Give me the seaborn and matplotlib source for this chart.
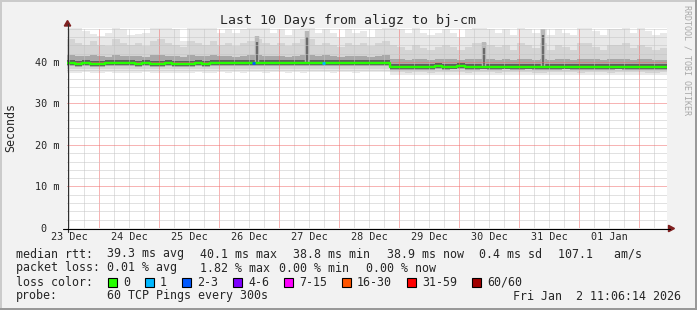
import numpy as np
import pandas as pd
import matplotlib
matplotlib.use("Agg")
import matplotlib.pyplot as plt
import seaborn as sns
from matplotlib.lines import Line2D
from matplotlib.patches import Rectangle, Polygon
from matplotlib.transforms import IdentityTransform
from matplotlib.ticker import FixedLocator, FixedFormatter, NullFormatter

# ------------------------------------------------------------------ data
title = "Last 10 Days from aligz to bj-cm"
y_label = "Seconds"
watermark = "RRDTOOL / TOBI OETIKER"
start_hour = 11.104          # Dec 23 11:06:14, hours since Dec 23 00:00
span_hours = 240
bin_hours = 3

median_rtt = [39.70, 39.55, 39.70, 39.55, 39.60, 39.70, 39.75, 39.70, 39.70, 39.60,
              39.70, 39.55, 39.60, 39.70, 39.55, 39.60, 39.55, 39.70, 39.60, 39.70,
              39.70, 39.75, 39.70, 39.70, 39.80, 39.70, 39.70, 39.75, 39.70, 39.70,
              39.70, 39.75, 39.80, 39.70, 39.85, 39.70, 39.70, 39.75, 39.70, 39.70,
              39.80, 39.75, 39.85, 38.85, 38.85, 38.85, 38.85, 38.85, 38.85, 38.95,
              38.85, 38.90, 38.95, 38.85, 38.85, 38.90, 38.85, 38.85, 38.90, 38.85,
              38.85, 38.90, 38.85, 38.80, 38.85, 38.85, 38.90, 38.85, 38.85, 38.85,
              38.85, 38.85, 38.85, 38.90, 38.85, 38.85, 38.85, 38.85, 38.80, 38.85]

smoke_max = [49.5, 49.5, 47.5, 46.7, 46.3, 47.0, 49.5, 48.0, 46.5, 46.8,
             47.0, 48.5, 49.5, 49.5, 48.0, 45.0, 49.5, 48.5, 49.5, 49.5,
             47.0, 48.0, 47.0, 48.0, 49.5, 49.5, 48.5, 47.0, 48.0, 46.5,
             48.0, 49.5, 49.5, 47.0, 48.0, 47.0, 46.0, 48.0, 47.0, 47.5,
             46.0, 48.0, 49.5, 49.5, 48.0, 47.0, 49.5, 47.0, 46.5, 47.0,
             48.0, 47.0, 46.0, 48.0, 49.5, 49.5, 48.0, 47.0, 48.0, 46.5,
             49.5, 48.0, 47.0, 48.0, 46.5, 48.0, 47.0, 46.5, 49.5, 49.5,
             47.5, 46.5, 48.0, 48.0, 49.5, 47.0, 48.5, 47.5, 46.5, 47.0]

smoke_p90 = [45.5, 44.5, 44.0, 45.0, 44.0, 43.8, 45.5, 44.5, 44.0, 44.5,
             43.8, 45.0, 45.5, 44.5, 44.0, 43.5, 45.0, 44.5, 44.0, 45.0,
             44.0, 44.5, 43.8, 44.5, 45.0, 45.5, 44.5, 44.0, 44.5, 43.8,
             44.5, 45.5, 45.5, 44.0, 44.5, 44.0, 43.5, 44.5, 44.0, 44.5,
             43.8, 44.5, 45.0, 44.0, 43.5, 43.0, 44.0, 43.3, 43.0, 43.5,
             44.0, 43.5, 43.0, 43.5, 44.5, 44.5, 44.0, 43.5, 44.0, 43.0,
             44.5, 44.0, 43.3, 44.5, 43.0, 44.0, 43.5, 43.0, 44.5, 44.5,
             43.5, 43.0, 44.0, 44.0, 44.5, 43.3, 44.0, 43.5, 43.0, 43.3]

smoke_p75 = [41.6, 41.4, 41.5, 41.6, 41.4, 41.3, 41.7, 41.5, 41.4, 41.5,
             41.3, 41.6, 41.7, 41.5, 41.4, 41.3, 41.6, 41.5, 41.4, 41.6,
             41.4, 41.5, 41.3, 41.5, 41.6, 41.6, 41.5, 41.4, 41.5, 41.3,
             41.5, 41.6, 41.6, 41.4, 41.6, 41.4, 41.3, 41.5, 41.4, 41.5,
             41.3, 41.5, 41.6, 40.7, 40.6, 40.5, 40.7, 40.6, 40.5, 40.6,
             40.7, 40.6, 40.5, 40.6, 40.7, 40.7, 40.6, 40.5, 40.6, 40.5,
             40.7, 40.6, 40.5, 40.6, 40.5, 40.6, 40.6, 40.5, 40.7, 40.7,
             40.6, 40.5, 40.6, 40.6, 40.7, 40.5, 40.6, 40.6, 40.5, 40.5]

smoke_p25 = [39.0, 38.9, 39.0, 38.9, 38.9, 39.0, 39.0, 39.0, 39.0, 38.9,
             39.0, 38.9, 38.9, 39.0, 38.9, 38.9, 38.9, 39.0, 38.9, 39.0,
             39.0, 39.0, 39.0, 39.0, 39.1, 39.0, 39.0, 39.0, 39.0, 39.0,
             39.0, 39.0, 39.1, 39.0, 39.1, 39.0, 39.0, 39.0, 39.0, 39.0,
             39.1, 39.0, 39.1, 38.1, 38.1, 38.1, 38.1, 38.1, 38.1, 38.2,
             38.1, 38.2, 38.2, 38.1, 38.1, 38.2, 38.1, 38.1, 38.2, 38.1,
             38.1, 38.2, 38.1, 38.1, 38.1, 38.1, 38.2, 38.1, 38.1, 38.1,
             38.1, 38.1, 38.1, 38.2, 38.1, 38.1, 38.1, 38.1, 38.1, 38.1]

smoke_p10 = [38.3, 38.2, 38.3, 38.2, 38.2, 38.3, 38.3, 38.3, 38.2, 38.2,
             38.3, 38.2, 38.2, 38.3, 38.2, 38.2, 38.2, 38.3, 38.2, 38.3,
             38.3, 38.3, 38.3, 38.3, 38.4, 38.3, 38.3, 38.3, 38.3, 38.3,
             38.3, 38.3, 38.4, 38.3, 38.4, 38.3, 38.3, 38.3, 38.3, 38.3,
             38.4, 38.3, 38.4, 37.5, 37.5, 37.4, 37.5, 37.5, 37.4, 37.5,
             37.5, 37.5, 37.5, 37.4, 37.5, 37.5, 37.5, 37.4, 37.5, 37.5,
             37.5, 37.5, 37.4, 37.4, 37.5, 37.5, 37.5, 37.5, 37.4, 37.5,
             37.5, 37.5, 37.4, 37.5, 37.5, 37.5, 37.5, 37.4, 37.4, 37.5]

smoke_min = [37.4, 37.3, 37.5, 37.3, 37.4, 37.5, 37.3, 37.4, 37.4, 37.3,
             37.5, 37.3, 37.4, 37.4, 37.3, 37.4, 37.3, 37.5, 37.4, 37.4,
             37.5, 37.4, 37.5, 37.4, 37.6, 37.5, 37.4, 37.5, 37.5, 37.4,
             37.5, 37.4, 37.6, 37.5, 37.6, 37.4, 37.5, 37.5, 37.4, 37.5,
             37.6, 37.5, 37.6, 36.8, 36.9, 36.8, 36.9, 36.8, 36.8, 36.9,
             36.8, 36.9, 36.9, 36.8, 36.8, 36.9, 36.8, 36.8, 36.9, 36.8,
             36.9, 36.9, 36.8, 36.8, 36.9, 36.8, 36.9, 36.8, 36.8, 36.9,
             36.8, 36.9, 36.8, 36.9, 36.8, 36.8, 36.9, 36.8, 36.8, 36.9]

# short bursts of slow pings (hour of event, rtt reached in ms)
burst_hours = [87.1, 107.1, 177.9, 201.5]
burst_rtt = [44.8, 46.0, 43.4, 46.5]

# pings lost (hour of event, lost pings of 60)
loss_hours = [85.9, 113.9]
loss_pings = [2, 1]

day_labels = ["23 Dec", "24 Dec", "25 Dec", "26 Dec", "27 Dec",
              "28 Dec", "29 Dec", "30 Dec", "31 Dec", "01 Jan"]
y_ticks = [0, 10, 20, 30, 40]
y_tick_labels = ["0  ", "10 m", "20 m", "30 m", "40 m"]

loss_labels = ["0", "1", "2-3", "4-6", "7-15", "16-30", "31-59", "60/60"]
loss_upper = [0, 1, 3, 6, 15, 30, 59, 60]
loss_colors = ["#26ff00", "#00b8ff", "#0059ff", "#7e00ff",
               "#ff00ff", "#ff5500", "#ff0000", "#a10000"]

rtt_stats = ["39.3 ms avg", "40.1 ms max", "38.8 ms min",
             "38.9 ms now", "0.4 ms sd", "107.1   am/s"]
loss_stats = ["0.01 % avg", "1.82 % max", "0.00 % min", "0.00 % now"]
probe_text = "60 TCP Pings every 300s"
timestamp = "Fri Jan  2 11:06:14 2026"

# ------------------------------------------------------------------ style
sns.set_style("white")
plt.rcParams["font.family"] = ["DejaVu Sans Mono"]

W, H = 697, 310
BG = "#F2F2F2"
fig = plt.figure(figsize=(W / 100, H / 100), dpi=100, facecolor=BG)
PX = IdentityTransform()


def fx(x):
    return x / W


def fy(y):
    return 1 - y / H


ax = fig.add_axes([fx(67), fy(228), 600 / W, 200.5 / H])
ax.set_facecolor("white")
ax.set_xlim(start_hour, start_hour + span_hours)
ax.set_ylim(0, 48.31)

n = len(median_rtt)
t_edges = start_hour + bin_hours * np.arange(n + 1)


def stepped(a):
    a = np.asarray(a, dtype=float)
    return np.append(a, a[-1])


med = stepped(median_rtt)
bands = [
    (smoke_min, smoke_max, "#E8E8E8"),
    (smoke_p10, smoke_p90, "#D4D4D4"),
    (smoke_p25, smoke_p75, "#A8A8A8"),
]
for lo, hi, col in bands:
    ax.fill_between(t_edges, stepped(lo), stepped(hi), step="post",
                    color=col, lw=0, zorder=1)
# dark core around the median
ax.fill_between(t_edges, med - 0.5, med + 0.7, step="post",
                color="#5E5E5E", lw=0, zorder=1.2)

# bursts of slow pings: narrow dark streaks above the median
burst_base = [median_rtt[int((h - start_hour) // bin_hours)] for h in burst_hours]
ax.vlines(burst_hours, burst_base, [b + 1.5 for b in burst_rtt],
          color="#B8B8B8", lw=3.2, zorder=1.25)
ax.vlines(burst_hours, burst_base, burst_rtt, color="#6A6A6A", lw=1.6, zorder=1.3)

df = pd.DataFrame({"t": t_edges, "median": med})
sns.lineplot(data=df, x="t", y="median", ax=ax, drawstyle="steps-post",
             color=loss_colors[0], lw=1.7, estimator=None, zorder=3,
             legend=False)
for h, lp in zip(loss_hours, loss_pings):
    ci = next(i for i, u in enumerate(loss_upper) if lp <= u)
    v = median_rtt[int((h - start_hour) // bin_hours)]
    ax.plot([h - 0.6, h + 0.6], [v, v], color=loss_colors[ci], lw=2.0,
            solid_capstyle="butt", zorder=4)

# grid: 6-hourly / 2 ms minor lines, daily / 10 ms major lines
midnights = [h for h in range(24, 252, 24)]
six_hours = [h for h in range(12, 252, 6) if h % 24 != 0]
ax.xaxis.set_major_locator(FixedLocator(midnights))
ax.xaxis.set_major_formatter(NullFormatter())
ax.xaxis.set_minor_locator(FixedLocator(six_hours))
noon_labels = []
di = 0
for h in six_hours:
    if h % 24 == 12 and di < len(day_labels):
        noon_labels.append(day_labels[di])
        di += 1
    else:
        noon_labels.append("")
ax.xaxis.set_minor_formatter(FixedFormatter(noon_labels))

ax.yaxis.set_major_locator(FixedLocator(y_ticks))
ax.yaxis.set_major_formatter(FixedFormatter(y_tick_labels))
minor_y = [v for v in range(2, 49, 2) if v % 10 != 0]
ax.yaxis.set_minor_locator(FixedLocator(minor_y))

dot = (0, (1, 1))
ax.set_axisbelow(False)
ax.grid(which="minor", color="#C4C4C4", linestyle=dot, lw=0.72, snap=True)
ax.grid(which="major", color="#F06A6A", linestyle=dot, lw=0.72, snap=True)
ax.tick_params(axis="both", which="both", length=0)
ax.tick_params(axis="x", which="minor", labelsize=7.3, pad=2.6)
ax.tick_params(axis="y", which="major", labelsize=7.3, pad=5.2)
for s in ax.spines.values():
    s.set_visible(False)
ax.set_xlabel("")
ax.set_ylabel("")

# axes with arrows
fig.add_artist(Line2D([67.5, 67.5], [H - 232, H - 24], color="#303030",
                      lw=0.8, transform=PX))
fig.add_artist(Line2D([63, 670], [H - 228.5, H - 228.5], color="black",
                      lw=0.8, transform=PX))
AR = "#7f1f1f"
fig.add_artist(Polygon([(64.3, H - 26), (70.7, H - 26), (67.5, H - 20.5)],
                       closed=True, color=AR, transform=PX))
fig.add_artist(Polygon([(668.5, H - 225.3), (668.5, H - 231.7), (674.5, H - 228.5)],
                       closed=True, color=AR, transform=PX))

# frame
fig.add_artist(Line2D([0, W], [H - 1, H - 1], color="#CBCBCB", lw=1.44, transform=PX))
fig.add_artist(Line2D([1, 1], [0, H], color="#CBCBCB", lw=1.44, transform=PX))
fig.add_artist(Line2D([0, W], [1, 1], color="#999999", lw=1.44, transform=PX))
fig.add_artist(Line2D([W - 1, W - 1], [0, H], color="#999999", lw=1.44, transform=PX))

# texts
fig.text(fx(347.5), fy(24.3), title, ha="center", va="baseline", fontsize=9.5)
fig.text(fx(11), fy(127), y_label, rotation=90, ha="center", va="center", fontsize=8.4)
fig.text(fx(687), fy(60), watermark, rotation=270, ha="center", va="center",
         fontsize=6.0, color="#A8A8A8")

LF = 8.4
rows = [257.5, 271.5, 285.7, 299.5]
fig.text(fx(16), fy(rows[0]), "median rtt:", va="baseline", fontsize=LF)
for x, s in zip([107, 200, 293, 386.5, 479, 558], rtt_stats):
    fig.text(fx(x), fy(rows[0]), s, va="baseline", fontsize=LF)

fig.text(fx(16), fy(rows[1]), "packet loss:", va="baseline", fontsize=LF)
for x, s in zip([107, 200, 279, 366], loss_stats):
    fig.text(fx(x), fy(rows[1]), s, va="baseline", fontsize=LF)

fig.text(fx(16), fy(rows[2]), "loss color:", va="baseline", fontsize=LF)
cx = 108.0
for lab, col in zip(loss_labels, loss_colors):
    fig.add_artist(Rectangle((cx, H - 286.5), 8.5, 8.5, facecolor=col,
                             edgecolor="black", lw=0.8, transform=PX))
    fig.text(fx(cx + 15), fy(rows[2]), lab, va="baseline", fontsize=LF)
    cx = cx + 15 + 7.0 * len(lab) + 15

fig.text(fx(16), fy(rows[3]), "probe:", va="baseline", fontsize=LF)
fig.text(fx(107), fy(rows[3]), probe_text, va="baseline", fontsize=LF)
fig.text(fx(681), fy(rows[3]), timestamp, ha="right", va="baseline", fontsize=LF)

fig.savefig("out.png", dpi=100, facecolor=BG)
